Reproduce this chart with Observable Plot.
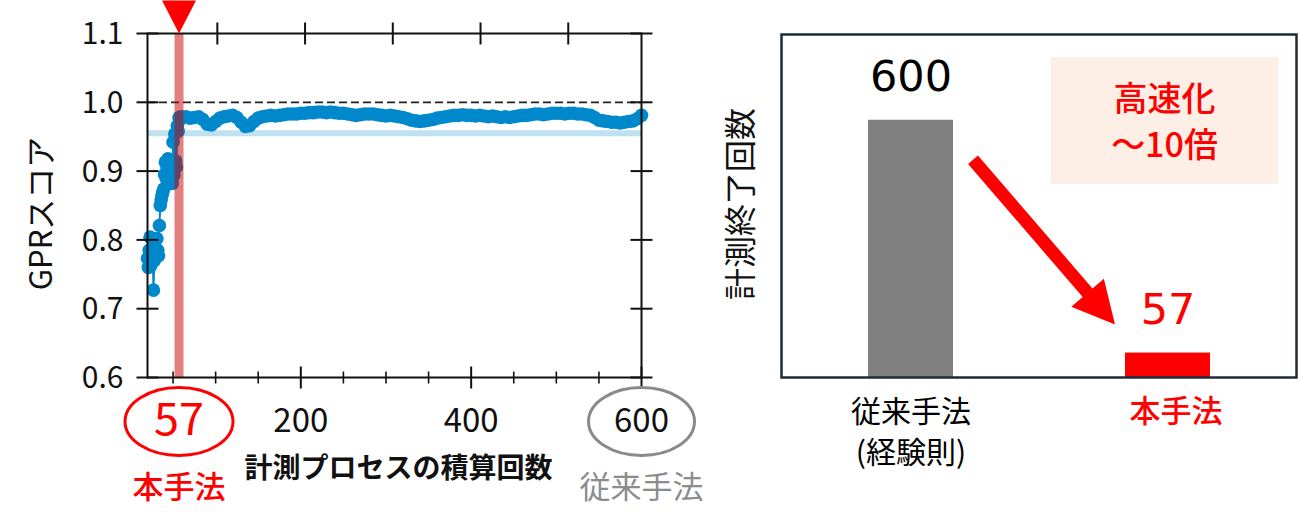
<!DOCTYPE html>
<html><head><meta charset="utf-8">
<script src="https://cdn.jsdelivr.net/npm/d3@7"></script>
<script src="https://cdn.jsdelivr.net/npm/@observablehq/plot@0.6"></script>
<style>
html,body{margin:0;padding:0;background:#fff;}
#wrap{position:relative;width:1299px;height:526px;overflow:hidden;}
#left{position:absolute;left:0;top:0;width:700px;height:526px;}
#right{position:absolute;left:700px;top:0;width:599px;height:526px;}
</style></head><body>
<div id="wrap"><div id="left"></div><div id="right"></div></div>
<script>
// ---- left chart data ----
const iterations = [20,21,22,23,24,25,26,27,28,29,30,31,32,33,34,35,36,37,38,39,40,41,42,43,44,45,46,47,48,49,50,51,52,53,54,55,56,57,58,59,
60,65,70,75,80,85,90,95,100,105,110,115,120,125,130,135,140,145,150,155,160,165,170,175,180,185,190,195,200,205,210,215,220,225,230,235,240,245,250,255,260,265,270,275,280,285,290,295,300,305,310,315,320,325,330,335,340,345,350,355,360,365,370,375,380,385,390,395,400,405,410,415,420,425,430,435,440,445,450,455,460,465,470,475,480,485,490,495,500,505,510,515,520,525,530,535,540,545,550,555,560,565,570,575,580,585,590,595,600];
const gprScore = [0.773,0.760,0.785,0.804,0.763,0.770,0.790,0.727,0.770,0.789,0.780,0.802,0.785,0.777,0.821,0.850,0.858,0.865,0.870,0.874,0.895,0.913,0.889,0.905,0.918,0.903,0.890,0.896,0.915,0.882,0.942,0.894,0.954,0.915,0.906,0.966,0.958,0.978,0.975,0.979,
0.977,0.979,0.977,0.978,0.979,0.975,0.968,0.967,0.972,0.977,0.979,0.980,0.981,0.978,0.971,0.965,0.966,0.972,0.977,0.979,0.980,0.981,0.980,0.981,0.982,0.983,0.983,0.983,0.984,0.984,0.985,0.985,0.986,0.986,0.985,0.986,0.985,0.984,0.984,0.983,0.982,0.981,0.982,0.983,0.983,0.983,0.982,0.981,0.980,0.981,0.980,0.979,0.978,0.976,0.974,0.973,0.972,0.973,0.974,0.975,0.977,0.978,0.979,0.980,0.981,0.981,0.982,0.981,0.981,0.980,0.981,0.980,0.979,0.980,0.979,0.978,0.979,0.978,0.979,0.980,0.981,0.981,0.982,0.983,0.983,0.982,0.983,0.984,0.984,0.984,0.983,0.984,0.984,0.983,0.983,0.982,0.981,0.978,0.974,0.973,0.972,0.971,0.971,0.970,0.971,0.972,0.973,0.976,0.981];
const xDomain = [20, 600];
const yDomain = [0.6, 1.1];
const yTicks = [0.6, 0.7, 0.8, 0.9, 1.0, 1.1];
const xLabelTicks = [200, 400];
const xMajorTicks = [200, 400, 600];
const xMinorTicks = [50, 100, 150, 250, 300, 350, 450, 500, 550];
const topTicks = [102, 205, 308, 411, 514];
const proposedCount = 57;
const conventionalCount = 600;
const targetScore = 1.0;
const thresholdScore = 0.955;
const proposedLabel = "本手法";
const conventionalLabel = "従来手法";
const leftYLabel = "GPRスコア";
const leftXLabel = "計測プロセスの積算回数";

// ---- right chart data ----
const methods = ["従来手法", "本手法"];
const methodSub = ["(経験則)"];
const counts = [600, 57];
const barColors = ["#808080", "#ff0000"];
const labelColors = ["#000000", "#ff0000"];
const rightYLabel = "計測終了回数";
const speedupLines = ["高速化", "〜10倍"];

const FONT = '"Noto Sans CJK JP","Noto Sans",sans-serif';
const NUMFONT = '"DejaVu Sans","Noto Sans",sans-serif';
const data = iterations.map((x, i) => ({x, y: gprScore[i]}));

// custom symbols
const hTick = len => ({draw(c){c.moveTo(-len,0);c.lineTo(len,0);}});
const vTick = len => ({draw(c){c.moveTo(0,-len);c.lineTo(0,len);}});
const ellipse = (rx, ry) => ({draw(c){const k=0.5523;c.moveTo(rx,0);c.bezierCurveTo(rx,ry*k,rx*k,ry,0,ry);c.bezierCurveTo(-rx*k,ry,-rx,ry*k,-rx,0);c.bezierCurveTo(-rx,-ry*k,-rx*k,-ry,0,-ry);c.bezierCurveTo(rx*k,-ry,rx,-ry*k,rx,0);c.closePath();}});
const downTriangle = (w, h) => ({draw(c){c.moveTo(-w/2,-h);c.lineTo(w/2,-h);c.lineTo(0,0);c.closePath();}});
const rectSym = (w, h) => ({draw(c){c.rect(-w/2,-h/2,w,h);}});

const leftPlot = Plot.plot({
  width: 700, height: 526,
  marginLeft: 147, marginRight: 59, marginTop: 33, marginBottom: 149,
  x: {domain: xDomain, axis: null},
  y: {domain: yDomain, axis: null},
  style: {fontFamily: FONT, background: "transparent", overflow: "visible"},
  marks: [
    Plot.ruleY([thresholdScore], {stroke: "#bfe1f1", strokeWidth: 6}),
    Plot.ruleY([targetScore], {stroke: "#222", strokeWidth: 1.8, strokeDasharray: "8,4"}),
    Plot.line(data, {x: "x", y: "y", stroke: "#0088cc", strokeWidth: 2}),
    Plot.dot(data, {x: "x", y: "y", r: 6.8, fill: "#0088cc", stroke: "none"}),
    Plot.ruleX([proposedCount], {stroke: "#c80000", strokeOpacity: 0.5, strokeWidth: 9}),
    Plot.frame({stroke: "#111", strokeWidth: 2}),
    Plot.dot(yTicks, {y: d => d, frameAnchor: "left", symbol: hTick(11), r: 1, stroke: "#111", strokeWidth: 2, fill: "none"}),
    Plot.dot(yTicks, {y: d => d, frameAnchor: "right", symbol: hTick(11), r: 1, stroke: "#111", strokeWidth: 2, fill: "none"}),
    Plot.dot(xMajorTicks, {x: d => d, frameAnchor: "bottom", symbol: vTick(11), r: 1, stroke: "#111", strokeWidth: 2, fill: "none"}),
    Plot.dot(xMinorTicks, {x: d => d, frameAnchor: "bottom", symbol: vTick(6), r: 1, stroke: "#111", strokeWidth: 1.6, fill: "none"}),
    Plot.dot(topTicks, {x: d => d, frameAnchor: "top", symbol: vTick(11), r: 1, stroke: "#111", strokeWidth: 2, fill: "none"}),
    Plot.dot([proposedCount], {x: d => d, frameAnchor: "top", symbol: downTriangle(34, 33), r: 1, fill: "#ff0000", stroke: "none"}),
    Plot.text(yTicks, {y: d => d, text: d => d.toFixed(1), frameAnchor: "left", dx: -24, dy: 1, textAnchor: "end", fontSize: 30, fill: "#111"}),
    Plot.text(xLabelTicks, {x: d => d, text: d => String(d), frameAnchor: "bottom", dy: 54, fontSize: 33, fill: "#111"}),
    Plot.text([conventionalCount], {x: d => d, text: d => String(d), frameAnchor: "bottom", dy: 54, fontSize: 33, fill: "#111"}),
    Plot.dot([conventionalCount], {x: d => d, frameAnchor: "bottom", dy: 44, symbol: ellipse(53, 34), r: 1, fill: "none", stroke: "#8a8a8a", strokeWidth: 3}),
    Plot.text([proposedCount], {x: d => d, text: d => String(d), frameAnchor: "bottom", dy: 57, fontSize: 45, fill: "#ff0000"}),
    Plot.dot([proposedCount], {x: d => d, frameAnchor: "bottom", dy: 44, symbol: ellipse(54, 34), r: 1, fill: "none", stroke: "#ff0000", strokeWidth: 3}),
    Plot.text([proposedCount], {x: d => d, text: () => proposedLabel, frameAnchor: "bottom", dy: 120, fontSize: 31, fontWeight: 500, fill: "#ff0000"}),
    Plot.text([conventionalCount], {x: d => d, text: () => conventionalLabel, frameAnchor: "bottom", dy: 120, fontSize: 31, fill: "#8c8c8c"}),
    Plot.text([leftXLabel], {text: d => d, frameAnchor: "bottom", dy: 100, dx: 4, fontSize: 28, fontWeight: "bold", fill: "#111"}),
    Plot.text([leftYLabel], {text: d => d, frameAnchor: "left", textAnchor: "middle", dx: -105, dy: 8, rotate: -90, fontSize: 31, fill: "#111"})
  ]
});
document.getElementById("left").appendChild(leftPlot);

const bars = methods.map((m, i) => ({method: m, count: counts[i], color: barColors[i], lc: labelColors[i]}));

const rightPlot = Plot.plot({
  width: 599, height: 526,
  marginLeft: 81, marginRight: 3, marginTop: 34, marginBottom: 149,
  x: {type: "band", domain: methods, paddingInner: 0.67, paddingOuter: 0.335, axis: null},
  y: {domain: [0, 800], axis: null},
  color: {type: "identity"},
  style: {fontFamily: FONT, background: "transparent", overflow: "visible"},
  marks: [
    Plot.dot([methods[1]], {x: d => d, frameAnchor: "top", dy: 86, dx: -3.5, symbol: rectSym(228, 127), r: 1, fill: "#fdefe6", stroke: "none"}),
    Plot.text([speedupLines[0]], {x: () => methods[1], text: d => d, frameAnchor: "top", dy: 52, dx: -3.5, fontSize: 34, fontWeight: 500, fill: "#ff0000"}),
    Plot.text([speedupLines[1]], {x: () => methods[1], text: d => d, frameAnchor: "top", dy: 98, dx: -3.5, fontSize: 34, fontWeight: 500, fill: "#ff0000"}),
    Plot.barY(bars, {x: "method", y: "count", fill: "color"}),
    Plot.frame({stroke: "#1c2b39", strokeWidth: 2.5}),
    Plot.text(bars, {x: "method", y: "count", text: d => String(d.count), dy: -43, fontSize: 43, fontFamily: NUMFONT, fill: "lc"}),
    Plot.text([methods[0]], {x: d => d, text: d => d, frameAnchor: "bottom", dy: 44, fontSize: 30, fill: labelColors[0]}),
    Plot.text([methods[1]], {x: d => d, text: d => d, frameAnchor: "bottom", dy: 44, dx: 8, fontSize: 31, fontWeight: 500, fill: labelColors[1]}),
    Plot.text([methodSub[0]], {x: () => methods[0], text: d => d, frameAnchor: "bottom", dy: 85, fontSize: 30, fill: labelColors[0]}),
    Plot.text([rightYLabel], {text: d => d, frameAnchor: "left", textAnchor: "middle", dx: -40, dy: -2, rotate: -90, fontSize: 32, fill: "#111"})
  ]
});
document.getElementById("right").appendChild(rightPlot);

// arrow from the conventional bar top to the proposed bar top, placed with the plot's scales
(function(){
  const sx = rightPlot.scale("x"), sy = rightPlot.scale("y");
  const bw = sx.bandwidth;
  const S = [sx.apply(methods[0]) + bw + 20, sy.apply(counts[0]) + 40];
  const T = [sx.apply(methods[1]) - 10, sy.apply(counts[1]) - 28];
  const dx = T[0] - S[0], dy = T[1] - S[1], L = Math.hypot(dx, dy);
  const u = [dx / L, dy / L], n = [-u[1], u[0]];
  const hw = 6.5, hh = 21.5, hl = 42;
  const B = [T[0] - u[0] * hl, T[1] - u[1] * hl];
  const p = (P, k) => [P[0] + n[0] * k, P[1] + n[1] * k];
  const pts = [p(S, hw), p(B, hw), p(B, hh), T, p(B, -hh), p(B, -hw), p(S, -hw)];
  d3.select(rightPlot).append("polygon")
    .attr("points", pts.map(q => q.join(",")).join(" "))
    .attr("fill", "#ff0000");
})();
</script>
</body></html>
